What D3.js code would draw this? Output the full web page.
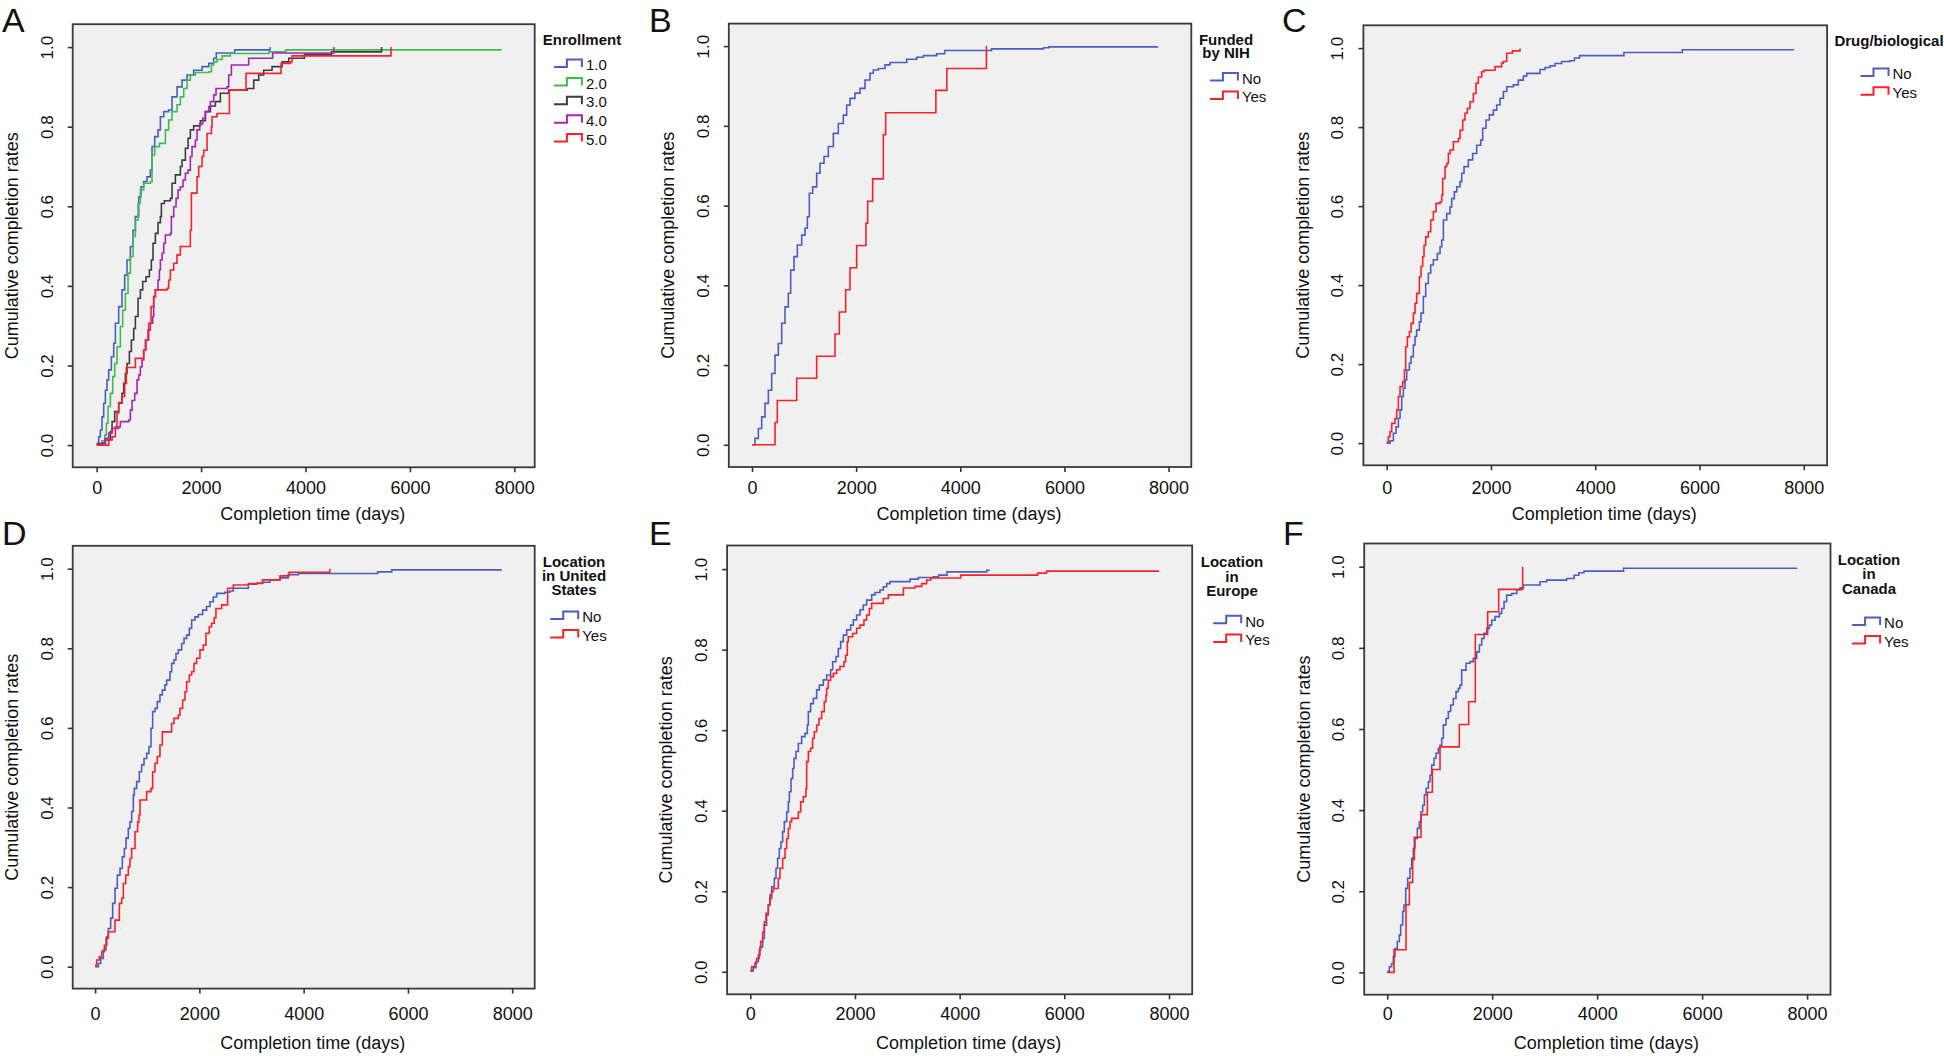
<!DOCTYPE html>
<html><head><meta charset="utf-8">
<script src="https://cdn.jsdelivr.net/npm/d3@7"></script>
<style>
html,body{margin:0;padding:0;background:#fff;}
svg{display:block;font-family:"Liberation Sans",Arial,sans-serif;}
</style></head><body>
<svg id="chart" width="1944" height="1056"></svg>
<script>
// ---------- data (completion time in days, cumulative completion rate) ----------
const xTicks = [0, 2000, 4000, 6000, 8000];
const yTicks = [0, 0.2, 0.4, 0.6, 0.8, 1.0];
const panelLetters = ["A", "B", "C", "D", "E", "F"];
const legendTitles = [["Enrollment"], ["Funded", "by NIH"], ["Drug/biological"], ["Location", "in United", "States"], ["Location", "in", "Europe"], ["Location", "in", "Canada"]];
const enrollmentLevels = ["1.0", "2.0", "3.0", "4.0", "5.0"];
const yesNo = ["No", "Yes"];
const xTitle = "Completion time (days)";
const yTitle = "Cumulative completion rates";

const enroll1 = [[0,0],[38,0.021],[70,0.038],[102,0.071],[134,0.105],[166,0.138],[198,0.164],[230,0.189],[281,0.222],[326,0.256],[358,0.306],[421,0.348],[485,0.390],[536,0.427],[581,0.465],[645,0.499],[696,0.540],[741,0.574],[805,0.624],[849,0.649],[900,0.662],[964,0.674],[1028,0.691],[1060,0.750],[1111,0.775],[1175,0.792],[1220,0.825],[1284,0.838],[1379,0.842],[1443,0.875],[1539,0.900],[1635,0.917],[1731,0.930],[1858,0.942],[2018,0.951],[2146,0.959],[2241,0.972],[2291,0.985],[2644,0.993],[3320,1.0]];
const enroll2 = [[0,0.002],[102,0.011],[153,0.025],[185,0.055],[217,0.097],[262,0.130],[307,0.172],[345,0.205],[390,0.247],[453,0.298],[498,0.339],[549,0.381],[600,0.432],[645,0.474],[696,0.524],[741,0.565],[792,0.608],[837,0.641],[900,0.658],[1028,0.662],[1060,0.729],[1111,0.750],[1201,0.758],[1316,0.792],[1379,0.817],[1443,0.838],[1539,0.855],[1603,0.875],[1667,0.896],[1731,0.917],[1794,0.930],[1890,0.936],[2146,0.938],[2197,0.955],[2241,0.963],[2305,0.969],[2401,0.978],[2560,0.984],[3300,0.988],[3620,0.993],[7745,0.995]];
const enroll3 = [[0,0.004],[166,0.013],[262,0.034],[294,0.059],[345,0.084],[421,0.105],[485,0.130],[517,0.155],[549,0.180],[581,0.205],[626,0.235],[664,0.264],[709,0.293],[741,0.323],[792,0.369],[837,0.390],[881,0.411],[945,0.423],[1009,0.440],[1047,0.465],[1079,0.507],[1124,0.532],[1175,0.559],[1220,0.574],[1239,0.607],[1296,0.614],[1411,0.620],[1443,0.658],[1507,0.679],[1603,0.700],[1635,0.716],[1699,0.746],[1750,0.771],[1794,0.792],[1858,0.802],[1986,0.815],[2082,0.838],[2178,0.852],[2273,0.863],[2369,0.884],[2529,0.892],[2880,0.896],[3008,0.917],[3104,0.930],[3199,0.942],[3359,0.951],[3551,0.963],[3680,0.972],[3980,0.982],[4500,0.988],[5457,1.0]];
const enroll4 = [[0,0.002],[102,0.006],[166,0.017],[230,0.030],[294,0.042],[421,0.046],[453,0.059],[613,0.063],[645,0.088],[677,0.112],[728,0.130],[773,0.164],[805,0.176],[837,0.197],[869,0.214],[900,0.239],[932,0.264],[983,0.289],[1028,0.306],[1073,0.323],[1092,0.373],[1124,0.390],[1175,0.415],[1201,0.440],[1220,0.465],[1252,0.482],[1284,0.507],[1316,0.528],[1411,0.532],[1430,0.574],[1475,0.599],[1520,0.620],[1558,0.641],[1603,0.649],[1654,0.666],[1699,0.683],[1750,0.691],[1794,0.725],[1826,0.750],[1890,0.766],[1922,0.792],[1973,0.807],[2031,0.821],[2082,0.838],[2146,0.850],[2178,0.863],[2241,0.880],[2286,0.896],[2497,0.900],[2529,0.930],[2580,0.955],[2912,0.972],[3370,0.985],[4543,1.0]];
const enroll5 = [[0,0],[230,0.013],[294,0.021],[358,0.046],[390,0.080],[421,0.107],[485,0.122],[536,0.155],[568,0.195],[741,0.218],[900,0.239],[945,0.264],[996,0.306],[1041,0.348],[1092,0.373],[1124,0.390],[1347,0.394],[1379,0.415],[1411,0.440],[1475,0.457],[1539,0.478],[1603,0.499],[1794,0.540],[1814,0.633],[1922,0.674],[1954,0.700],[2018,0.725],[2050,0.741],[2114,0.783],[2197,0.800],[2210,0.825],[2305,0.833],[2542,0.892],[2861,0.934],[3532,0.959],[3710,0.963],[3742,0.978],[5637,1.0]];

const nihNo = [[0,0],[58,0.016],[122,0.041],[186,0.070],[250,0.104],[314,0.137],[378,0.179],[442,0.225],[506,0.254],[570,0.305],[634,0.346],[698,0.380],[743,0.438],[807,0.472],[871,0.501],[954,0.526],[1018,0.543],[1063,0.572],[1101,0.631],[1165,0.647],[1242,0.681],[1306,0.706],[1383,0.723],[1466,0.748],[1562,0.781],[1658,0.806],[1754,0.827],[1818,0.852],[1882,0.869],[1978,0.882],[2074,0.894],[2170,0.915],[2266,0.932],[2330,0.940],[2426,0.944],[2554,0.953],[2650,0.959],[2970,0.967],[3162,0.972],[3290,0.976],[3546,0.981],[3700,0.989],[4600,0.993],[5600,0.996],[5700,0.998],[7790,0.999]];
const nihYes = [[0,0],[442,0.056],[486,0.111],[858,0.167],[1242,0.222],[1594,0.278],[1677,0.333],[1799,0.389],[1882,0.444],[2010,0.5],[2189,0.556],[2221,0.611],[2317,0.667],[2522,0.778],[2567,0.833],[3531,0.889],[3741,0.944],[4501,1.0]];

const drugNo = [[0,0],[64,0.006],[128,0.025],[179,0.041],[224,0.063],[256,0.084],[288,0.118],[320,0.139],[352,0.160],[384,0.185],[435,0.202],[467,0.219],[511,0.248],[543,0.270],[575,0.286],[627,0.307],[658,0.329],[703,0.371],[748,0.404],[799,0.430],[844,0.451],[895,0.464],[972,0.480],[1023,0.497],[1055,0.514],[1087,0.565],[1151,0.581],[1215,0.598],[1247,0.619],[1298,0.636],[1343,0.649],[1407,0.662],[1439,0.683],[1483,0.700],[1566,0.717],[1649,0.733],[1726,0.754],[1803,0.767],[1841,0.797],[1905,0.818],[1969,0.831],[2046,0.843],[2110,0.856],[2174,0.873],[2238,0.890],[2302,0.902],[2429,0.907],[2525,0.919],[2621,0.929],[2685,0.936],[2941,0.946],[3037,0.951],[3133,0.955],[3228,0.961],[3356,0.966],[3516,0.968],[3600,0.975],[3700,0.981],[4550,0.989],[5670,0.996],[7800,0.997]];
const drugYes = [[0,0.002],[32,0.016],[64,0.029],[96,0.050],[160,0.062],[192,0.084],[224,0.118],[256,0.143],[307,0.155],[339,0.185],[364,0.244],[396,0.269],[435,0.282],[467,0.303],[511,0.329],[543,0.354],[575,0.379],[627,0.421],[658,0.447],[690,0.472],[716,0.501],[748,0.522],[799,0.535],[844,0.565],[895,0.586],[946,0.607],[1023,0.611],[1055,0.628],[1074,0.670],[1119,0.700],[1151,0.708],[1183,0.733],[1215,0.742],[1279,0.763],[1375,0.771],[1407,0.792],[1458,0.818],[1502,0.835],[1547,0.847],[1598,0.864],[1662,0.885],[1713,0.911],[1758,0.927],[1822,0.940],[1867,0.944],[2078,0.953],[2206,0.962],[2238,0.966],[2302,0.987],[2410,0.993],[2557,0.999]];

const usNo = [[0,0],[62,0.008],[107,0.021],[158,0.042],[209,0.071],[254,0.096],[299,0.122],[337,0.159],[382,0.197],[426,0.230],[478,0.247],[522,0.276],[561,0.297],[593,0.323],[637,0.348],[669,0.364],[701,0.390],[733,0.431],[752,0.448],[797,0.465],[848,0.490],[893,0.507],[938,0.523],[989,0.536],[1033,0.553],[1072,0.599],[1104,0.641],[1149,0.649],[1193,0.666],[1244,0.683],[1289,0.695],[1340,0.708],[1372,0.720],[1436,0.741],[1468,0.762],[1513,0.771],[1551,0.787],[1596,0.796],[1660,0.812],[1705,0.825],[1756,0.833],[1807,0.850],[1852,0.871],[1916,0.879],[1980,0.885],[2063,0.896],[2139,0.905],[2203,0.917],[2267,0.929],[2331,0.938],[2491,0.941],[2587,0.944],[2651,0.951],[2939,0.961],[3099,0.964],[3227,0.966],[3355,0.972],[3547,0.977],[3700,0.985],[3900,0.988],[5420,0.992],[5690,0.997],[7790,0.998]];
const usYes = [[0,0.004],[30,0.017],[81,0.025],[126,0.038],[178,0.054],[222,0.075],[254,0.088],[382,0.117],[465,0.159],[510,0.172],[542,0.209],[587,0.230],[637,0.251],[669,0.272],[701,0.297],[765,0.339],[816,0.364],[842,0.381],[861,0.419],[989,0.440],[1072,0.448],[1104,0.490],[1149,0.511],[1193,0.528],[1244,0.557],[1289,0.590],[1468,0.611],[1513,0.624],[1596,0.632],[1628,0.649],[1679,0.670],[1724,0.691],[1756,0.716],[1807,0.733],[1852,0.741],[1897,0.762],[1948,0.775],[2011,0.796],[2075,0.808],[2126,0.838],[2190,0.854],[2235,0.863],[2286,0.877],[2318,0.900],[2427,0.909],[2542,0.951],[2651,0.959],[2939,0.963],[3209,0.972],[3547,0.982],[3720,0.991],[4502,1.0]];

const euNo = [[0,0.002],[57,0.010],[108,0.025],[153,0.042],[185,0.062],[236,0.083],[268,0.116],[312,0.141],[344,0.166],[376,0.191],[408,0.211],[459,0.232],[491,0.257],[522,0.282],[554,0.306],[586,0.323],[618,0.348],[650,0.373],[695,0.397],[727,0.422],[746,0.447],[778,0.480],[810,0.505],[835,0.530],[873,0.547],[918,0.567],[981,0.584],[1045,0.592],[1090,0.613],[1109,0.646],[1153,0.666],[1204,0.679],[1268,0.700],[1319,0.712],[1395,0.725],[1459,0.737],[1535,0.750],[1574,0.770],[1637,0.783],[1682,0.803],[1726,0.820],[1777,0.836],[1841,0.849],[1917,0.861],[1968,0.874],[2032,0.886],[2096,0.899],[2159,0.911],[2223,0.923],[2319,0.936],[2383,0.942],[2478,0.948],[2542,0.956],[2606,0.964],[2670,0.969],[3052,0.975],[3211,0.979],[3497,0.981],[3600,0.985],[3760,0.993],[4520,0.997],[4567,0.998]];
const euYes = [[0,0.002],[26,0.013],[89,0.021],[121,0.033],[172,0.054],[198,0.075],[236,0.099],[268,0.124],[300,0.145],[344,0.166],[376,0.182],[408,0.199],[440,0.207],[535,0.232],[567,0.257],[618,0.282],[663,0.306],[695,0.331],[727,0.356],[759,0.373],[790,0.381],[918,0.397],[963,0.422],[1013,0.435],[1064,0.455],[1077,0.522],[1109,0.547],[1153,0.555],[1191,0.580],[1223,0.596],[1268,0.613],[1312,0.629],[1363,0.646],[1414,0.671],[1446,0.687],[1459,0.704],[1491,0.724],[1535,0.733],[1586,0.741],[1650,0.750],[1714,0.758],[1790,0.770],[1822,0.786],[1854,0.820],[1873,0.832],[1956,0.840],[2032,0.853],[2096,0.861],[2172,0.874],[2223,0.886],[2274,0.902],[2319,0.915],[2542,0.927],[2638,0.936],[2925,0.953],[3148,0.957],[3275,0.964],[3370,0.973],[3450,0.978],[4020,0.985],[5490,0.990],[5660,0.995],[7800,0.996]];

const caNo = [[0,0.003],[41,0.014],[85,0.022],[117,0.039],[149,0.059],[193,0.076],[231,0.092],[257,0.117],[295,0.150],[320,0.166],[352,0.207],[390,0.232],[434,0.256],[466,0.281],[498,0.306],[530,0.330],[574,0.355],[612,0.371],[644,0.396],[676,0.412],[708,0.437],[740,0.454],[784,0.470],[815,0.486],[847,0.511],[892,0.528],[930,0.540],[974,0.552],[1006,0.560],[1038,0.577],[1070,0.610],[1120,0.626],[1165,0.643],[1209,0.659],[1260,0.675],[1311,0.692],[1355,0.700],[1387,0.708],[1419,0.745],[1502,0.762],[1578,0.766],[1641,0.774],[1705,0.790],[1756,0.807],[1800,0.823],[1845,0.836],[1896,0.848],[1947,0.856],[1991,0.868],[2054,0.877],[2137,0.885],[2181,0.897],[2226,0.914],[2276,0.930],[2372,0.934],[2467,0.943],[2531,0.948],[2595,0.955],[2912,0.963],[3039,0.967],[3420,0.971],[3560,0.979],[3650,0.985],[3750,0.989],[4504,0.996],[7800,0.997]];
const caYes = [[0,0],[130,0.056],[358,0.167],[422,0.222],[485,0.278],[517,0.333],[644,0.389],[765,0.444],[860,0.5],[1006,0.556],[1374,0.611],[1552,0.667],[1679,0.833],[1914,0.889],[2124,0.944],[2581,1.0]];

// ---------- styles ----------
const C = {blue:"#4a5ec2", green:"#3dbd4e", gray:"#3d3d3d", purple:"#a424b6", red:"#f5222a"};
const yesNoColors = [C.blue, C.red];
const enrollColors = [C.blue, C.green, C.gray, C.purple, C.red];

// ---------- layout ----------
const panels = [
  {series:[enroll1,enroll2,enroll3,enroll4,enroll5], names:enrollmentLevels, colors:enrollColors,
   lx:2, ly:31.5, box:[72.7,24.2,534.7,467.3], xr:[96.7,514.3], yr:[445.1,47.1], tickY:488, titleY:514,
   lg:{tcx:582, ty:[39.7], sx:553.9, iy0:65}},
  {series:[nihNo,nihYes], names:yesNo, colors:yesNoColors,
   lx:649, ly:31.5, box:[728.8,23.6,1191.3,467], xr:[752,1168.6], yr:[444.8,46.1], tickY:488, titleY:514,
   lg:{tcx:1226, ty:[39.4,52.9], sx:1209.9, iy0:78.5}},
  {series:[drugNo,drugYes], names:yesNo, colors:yesNoColors,
   lx:1282, ly:31.5, box:[1363.4,25.3,1827.1,465.3], xr:[1386.7,1803.8], yr:[443.1,48.1], tickY:488, titleY:514,
   lg:{tcx:1889, ty:[41.1], sx:1860.5, iy0:74.1}},
  {series:[usNo,usYes], names:yesNo, colors:yesNoColors,
   lx:2, ly:544.5, box:[72.7,545.8,534.7,988.6], xr:[95.1,512.2], yr:[966.7,568.7], tickY:1014, titleY:1043,
   lg:{tcx:574, ty:[561.7,575.7,590], sx:550.2, iy0:616.9}},
  {series:[euNo,euYes], names:yesNo, colors:yesNoColors,
   lx:649, ly:544.5, box:[727.1,545.5,1192.2,994.3], xr:[750.3,1169], yr:[971.8,569.1], tickY:1014, titleY:1043,
   lg:{tcx:1232, ty:[562,576.5,591], sx:1213.2, iy0:621.3}},
  {series:[caNo,caYes], names:yesNo, colors:yesNoColors,
   lx:1283, ly:544.5, box:[1364.2,543.5,1830.5,994.7], xr:[1387.2,1807.1], yr:[972.4,566.7], tickY:1014, titleY:1043,
   lg:{tcx:1869, ty:[559.3,573.8,588.3], sx:1852.1, iy0:623}}
];

const svg = d3.select("#chart");
const axisColor = "#333";

panels.forEach((p, i) => {
  const g = svg.append("g");
  const [bl, bt, br, bb] = p.box;
  const x = d3.scaleLinear().domain([0, 8000]).range(p.xr);
  const y = d3.scaleLinear().domain([0, 1]).range(p.yr);

  // panel letter
  g.append("text").attr("x", p.lx).attr("y", p.ly).text(panelLetters[i])
    .attr("font-size", 34).attr("fill", "#111");

  // plot box
  g.append("rect").attr("x", bl).attr("y", bt).attr("width", br - bl).attr("height", bb - bt)
    .attr("fill", "#f0f0f0").attr("stroke", "#3a3a3a").attr("stroke-width", 1.8);

  // x axis
  const gx = g.append("g").attr("transform", `translate(0,${bb})`)
    .call(d3.axisBottom(x).tickValues(xTicks).tickSize(5).tickFormat(d3.format("d")));
  gx.select(".domain").remove();
  gx.attr("font-size", null).attr("font-family", null).style("color", axisColor);
  gx.selectAll(".tick line").attr("stroke-width", 1.6);
  gx.selectAll(".tick text").attr("y", p.tickY - bb).attr("dy", "0.35em")
    .attr("font-size", 18).attr("fill", "#111");

  // y axis
  const gy = g.append("g").attr("transform", `translate(${bl},0)`)
    .call(d3.axisLeft(y).tickValues(yTicks).tickSize(5).tickFormat(d3.format(".1f")));
  gy.select(".domain").remove();
  gy.attr("font-size", null).attr("font-family", null).style("color", axisColor);
  gy.selectAll(".tick line").attr("stroke-width", 1.6);
  gy.selectAll(".tick text").attr("x", 0).attr("y", -26).attr("dy", "0.35em")
    .attr("transform", "rotate(-90)").attr("text-anchor", "middle")
    .attr("font-size", 17).attr("fill", "#111");

  // axis titles
  g.append("text").attr("x", (bl + br) / 2 + 9).attr("y", p.titleY).attr("dy", "0.35em")
    .attr("text-anchor", "middle").attr("font-size", 18).attr("fill", "#111").text(xTitle);
  g.append("text").attr("transform", `translate(${bl - 61},${(bt + bb) / 2}) rotate(-90)`)
    .attr("dy", "0.35em").attr("text-anchor", "middle").attr("font-size", 18).attr("fill", "#111").text(yTitle);

  // step curves
  const line = d3.line().x(d => x(d[0])).y(d => y(d[1])).curve(d3.curveStepAfter);
  p.series.forEach((s, k) => {
    g.append("path").attr("d", line(s)).attr("fill", "none")
      .attr("stroke", p.colors[k]).attr("stroke-width", 1.6).attr("stroke-linejoin", "miter");
  });

  // legend
  legendTitles[i].forEach((t, j) => {
    g.append("text").attr("x", p.lg.tcx).attr("y", p.lg.ty[j]).attr("dy", "0.35em")
      .attr("text-anchor", "middle").attr("font-size", 15).attr("font-weight", "bold")
      .attr("fill", "#111").text(t);
  });
  p.names.forEach((nm, k) => {
    const iy = p.lg.iy0 + k * 18.6;
    const sx = p.lg.sx;
    g.append("path").attr("d", `M${sx},${iy + 2}H${sx + 13}V${iy - 5.5}H${sx + 28}V${iy + 2}`)
      .attr("fill", "none").attr("stroke", p.colors[k]).attr("stroke-width", 2);
    g.append("text").attr("x", sx + 32).attr("y", iy).attr("dy", "0.35em")
      .attr("font-size", 15).attr("fill", "#111").text(nm);
  });
});
</script>
</body></html>
